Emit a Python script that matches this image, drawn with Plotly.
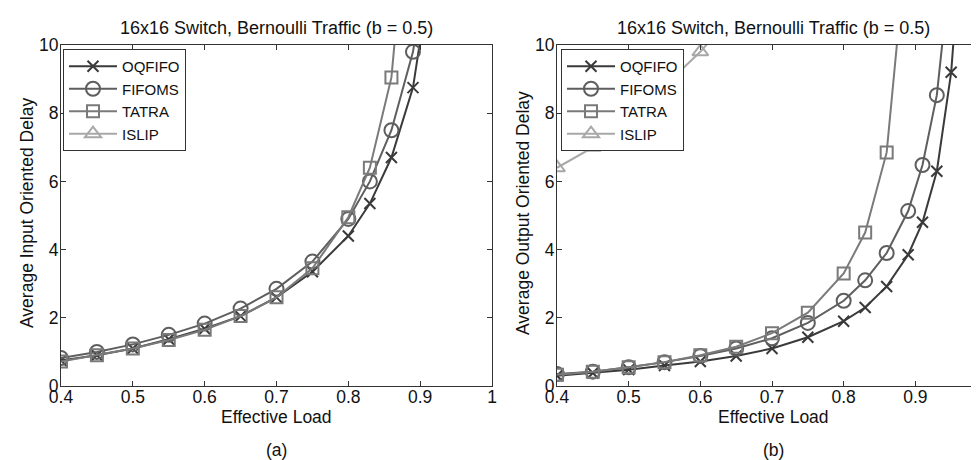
import plotly.graph_objects as go

W, H = 979, 460

title_text = "16x16 Switch, Bernoulli Traffic (b = 0.5)"
series_names = ["OQFIFO", "FIFOMS", "TATRA", "ISLIP"]

# Panel (a): input oriented delay
a_oqfifo_x = [0.4, 0.45, 0.5, 0.55, 0.6, 0.65, 0.7, 0.75, 0.8, 0.83, 0.86, 0.89, 0.91]
a_oqfifo_y = [0.75, 0.9, 1.1, 1.37, 1.68, 2.05, 2.6, 3.35, 4.4, 5.35, 6.7, 8.75, 11.5]
a_fifoms_x = [0.4, 0.45, 0.5, 0.55, 0.6, 0.65, 0.7, 0.75, 0.8, 0.83, 0.86, 0.89, 0.91]
a_fifoms_y = [0.82, 1.0, 1.22, 1.5, 1.83, 2.27, 2.85, 3.65, 4.9, 6.0, 7.5, 9.8, 12.5]
a_tatra_x = [0.4, 0.45, 0.5, 0.55, 0.6, 0.65, 0.7, 0.75, 0.8, 0.83, 0.86, 0.89]
a_tatra_y = [0.72, 0.9, 1.1, 1.35, 1.65, 2.05, 2.6, 3.45, 4.95, 6.4, 9.05, 16.0]
a_islip_x = []
a_islip_y = []

# Panel (b): output oriented delay
b_oqfifo_x = [0.4, 0.45, 0.5, 0.55, 0.6, 0.65, 0.7, 0.75, 0.8, 0.83, 0.86, 0.89, 0.91, 0.93, 0.95, 0.96]
b_oqfifo_y = [0.3, 0.38, 0.48, 0.6, 0.72, 0.88, 1.1, 1.43, 1.9, 2.3, 2.92, 3.85, 4.8, 6.3, 9.2, 12.0]
b_fifoms_x = [0.4, 0.45, 0.5, 0.55, 0.6, 0.65, 0.7, 0.75, 0.8, 0.83, 0.86, 0.89, 0.91, 0.93, 0.95]
b_fifoms_y = [0.35, 0.42, 0.55, 0.7, 0.88, 1.1, 1.4, 1.85, 2.5, 3.1, 3.9, 5.13, 6.48, 8.53, 12.5]
b_tatra_x = [0.4, 0.45, 0.5, 0.55, 0.6, 0.65, 0.7, 0.75, 0.8, 0.83, 0.86, 0.89]
b_tatra_y = [0.33, 0.42, 0.55, 0.7, 0.9, 1.15, 1.55, 2.15, 3.3, 4.5, 6.85, 13.5]
b_islip_x = [0.4, 0.45, 0.5, 0.55, 0.6, 0.65]
b_islip_y = [6.4, 7.0, 7.8, 8.8, 9.8, 11.0]

x_ticks = [0.4, 0.5, 0.6, 0.7, 0.8, 0.9, 1.0]
x_ticklabels = ["0.4", "0.5", "0.6", "0.7", "0.8", "0.9", "1"]
y_ticks = [0, 2, 4, 6, 8, 10]

colors = ["#3a3a3a", "#5e5e5e", "#7a7a7a", "#a8a8a8"]
symbols = ["x-thin-open", "circle-open", "square-open", "triangle-up-open"]
msizes = [11, 14, 12, 14]

FONT = "Liberation Sans, Arial, Helvetica, sans-serif"
FS = 17.5
TXT = "#111"


def px(xw):
    return xw / W


def py(yw):
    return 1 - yw / H


fig = go.Figure()

panels = [
    ("x", "y", "legend", [(a_oqfifo_x, a_oqfifo_y), (a_fifoms_x, a_fifoms_y), (a_tatra_x, a_tatra_y), (a_islip_x, a_islip_y)]),
    ("x2", "y2", "legend2", [(b_oqfifo_x, b_oqfifo_y), (b_fifoms_x, b_fifoms_y), (b_tatra_x, b_tatra_y), (b_islip_x, b_islip_y)]),
]

for xa, ya, lg, data in panels:
    for i, (xs, ys) in enumerate(data):
        fig.add_trace(go.Scatter(
            x=xs if xs else [None], y=ys if ys else [None],
            mode="lines+markers", name=series_names[i],
            xaxis=xa, yaxis=ya, legend=lg,
            line=dict(color=colors[i], width=2),
            marker=dict(symbol=symbols[i], size=msizes[i], color=colors[i],
                        line=dict(color=colors[i], width=2)),
            cliponaxis=True,
        ))

ax_common = dict(
    range=[0.4, 1.0], tickvals=x_ticks, ticktext=x_ticklabels,
    ticks="inside", ticklen=5, tickcolor="#333", showline=True, linecolor="#333",
    linewidth=1, mirror="ticks", showgrid=False, zeroline=False, automargin=False,
    tickfont=dict(family=FONT, size=FS, color=TXT), ticklabelstandoff=-5,
)
ay_common = dict(
    range=[0, 10], tickvals=y_ticks,
    ticks="inside", ticklen=5, tickcolor="#333", showline=True, linecolor="#333",
    linewidth=1, mirror="ticks", showgrid=False, zeroline=False, automargin=False,
    tickfont=dict(family=FONT, size=FS, color=TXT), ticklabelstandoff=-2,
)

ydom = [py(378), py(37)]
leg_common = dict(xanchor="left", yanchor="top", bgcolor="white", bordercolor="#333",
                  borderwidth=1, font=dict(family=FONT, size=15, color=TXT),
                  tracegroupgap=0, itemwidth=48)
fig.update_layout(
    width=W, height=H,
    margin=dict(l=0, r=0, t=0, b=0, autoexpand=False),
    paper_bgcolor="white", plot_bgcolor="white",
    font=dict(family=FONT, size=FS, color=TXT),
    xaxis=dict(domain=[px(53), px(484)], anchor="y", **ax_common),
    yaxis=dict(domain=ydom, anchor="x", **ay_common),
    xaxis2=dict(domain=[px(549), 1.0], anchor="y2", **ax_common),
    yaxis2=dict(domain=ydom, anchor="x2", **ay_common),
    legend=dict(x=px(55), y=py(41), **leg_common),
    legend2=dict(x=px(553), y=py(41), **leg_common),
    showlegend=True,
)

annos = [
    dict(text=title_text, x=268.5, y=20, rot=0, fs=18),
    dict(text=title_text, x=765, y=20, rot=0, fs=18),
    dict(text="Effective Load", x=268.5, y=409, rot=0, fs=FS),
    dict(text="Effective Load", x=765, y=409, rot=0, fs=FS),
    dict(text="(a)", x=268.5, y=442, rot=0, fs=FS),
    dict(text="(b)", x=765, y=442, rot=0, fs=FS),
    dict(text="Average Input Oriented Delay", x=19, y=205, rot=-90, fs=FS),
    dict(text="Average Output Oriented Delay", x=515, y=205, rot=-90, fs=FS),
]
for a in annos:
    fig.add_annotation(xref="paper", yref="paper", x=px(a["x"]), y=py(a["y"]), text=a["text"],
                       showarrow=False, xanchor="center", yanchor="middle", textangle=a["rot"],
                       font=dict(family=FONT, size=a["fs"], color=TXT))

fig.write_html("out.html")
